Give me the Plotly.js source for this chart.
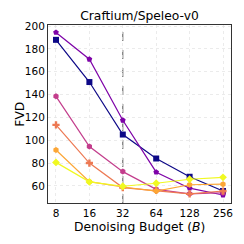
<!DOCTYPE html>
<html><head><meta charset="utf-8">
<script src="https://cdn.plot.ly/plotly-3.0.1.min.js"></script>
<style>html,body{margin:0;padding:0;background:#fff;}#c{width:244px;height:244px;}</style>
</head><body><div id="c"></div>
<script>
const budgets = [8, 16, 32, 64, 128, 256];
const tickLabels = ['8', '16', '32', '64', '128', '256'];
const s1 = [188, 151, 105, 84, 68, 55.5];
const s2 = [194.5, 171, 117.5, 72, 58, 52];
const s3 = [138.5, 94.5, 72.5, 57, 53, 54];
const s4 = [113.5, 80, 58.5, 56, 53, 55.5];
const s5 = [91.5, 63.7, 59, 55.5, 61, 61.5];
const s6 = [80.6, 63.5, 59.7, 62.3, 65.8, 67.5];
const series = [s1, s2, s3, s4, s5, s6];
const colors = ['#0d0887', '#7e03a8', '#c33d8c', '#ed7953', '#fca636', '#f0f921'];
const symbols = ['square', 'pentagon', 'hexagon', 'cross', 'hexagon', 'diamond'];
const traces = series.map((y, i) => ({
  x: budgets, y: y, type: 'scatter', mode: 'lines+markers',
  line: {color: colors[i], width: 1.2},
  marker: {color: colors[i], symbol: symbols[i], size: 6},
  showlegend: false
}));
const layout = {
  width: 244, height: 244,
  margin: {l: 48, r: 13, t: 25, b: 41},
  paper_bgcolor: '#fff', plot_bgcolor: '#fff',
  font: {family: 'DejaVu Sans', color: '#000', size: 10.5},
  title: {text: 'Craftium/Speleo-v0', xref: 'paper', x: 0.5, xanchor: 'center', yref: 'container', y: 0.936, yanchor: 'middle', font: {size: 12.3, family: 'DejaVu Sans'}},
  xaxis: {
    type: 'log', range: [Math.log10(8) - 0.072, Math.log10(256) + 0.072],
    tickvals: budgets, ticktext: tickLabels, ticks: '',
    showgrid: true, gridcolor: '#e3e3e3', griddash: 'dot', gridwidth: 0.7,
    showline: true, linecolor: '#333', linewidth: 1, mirror: true,
    zeroline: false, tickfont: {size: 10.5}
  },
  yaxis: {
    range: [45, 201], tickvals: [60, 80, 100, 120, 140, 160, 180, 200],
    ticks: '',
    showgrid: true, gridcolor: '#e3e3e3', griddash: 'dot', gridwidth: 0.7,
    showline: true, linecolor: '#333', linewidth: 1, mirror: true,
    zeroline: false, tickfont: {size: 10.5}
  },
  annotations: [
    {text: 'Denoising Budget (<i>B</i>)', xref: 'paper', yref: 'paper', x: 0.5, y: -0.137,
     xanchor: 'center', yanchor: 'middle', showarrow: false, font: {size: 12.3}},
    {text: 'FVD', xref: 'paper', yref: 'paper', x: -0.155, y: 0.5, textangle: -90,
     xanchor: 'center', yanchor: 'middle', showarrow: false, font: {size: 12.3}}
  ],
  shapes: [{type: 'line', xref: 'x', yref: 'paper', x0: 32, x1: 32, y0: 0, y1: 1,
    line: {color: '#555', width: 1, dash: 'dash'}, layer: 'below'}]
};
Plotly.newPlot('c', traces, layout, {staticPlot: true});
</script></body></html>
